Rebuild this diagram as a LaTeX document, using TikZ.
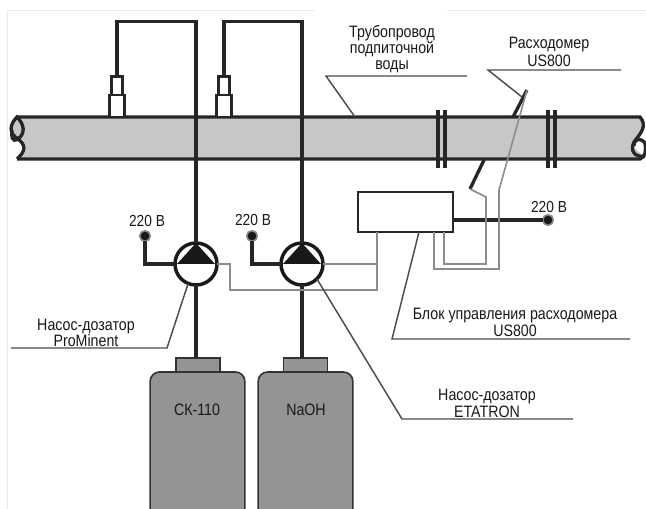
\documentclass[tikz,border=0pt]{standalone}
\usepackage{fontspec}
\setmainfont[FakeStretch=0.86]{Liberation Sans}
\begin{document}
\begin{tikzpicture}[x=0.75pt,y=-0.75pt,
  every node/.style={inner sep=0pt,outer sep=0pt},
  lbl/.style={font=\fontsize{12.4pt}{13pt}\selectfont,text=black!90,align=center},
  vlbl/.style={font=\fontsize{12pt}{13pt}\selectfont,text=black!90,align=center},
  wire/.style={draw=black!85,line width=2.5pt},
  thin wire/.style={draw=black!70,line width=1.1pt},
  gwire/.style={draw=black!45,line width=1.2pt},
  pumpnode/.style={circle,draw=black!90,line width=2.6pt,fill=white,minimum size=31.5pt},
  term/.style={circle,fill=black!90,draw=black!45,line width=1.2pt,minimum size=8pt},
  bottle/.style={draw=black!80,fill=black!42,line width=1.2pt,rounded corners=7pt},
  bottlecap/.style={draw=black!80,fill=black!42,line width=1.2pt},
  sens/.style={draw=black!85,fill=white,line width=1.8pt}]
\useasboundingbox (0,0) rectangle (646,509);
\fill[white] (0,0) rectangle (646,509);
% faint frame
\draw[black!8,line width=0.6pt] (7,509) -- (7,10) -- (315,10);
\draw[black!8,line width=0.6pt] (447,10) -- (646,10);
% pipe
\fill[black!22] (17,117) .. controls (10,124) and (8,133) .. (18,139) .. controls (26,145) and (26,151) .. (17,159)
  -- (640,159) .. controls (646,152) and (630,150) .. (634,142) .. controls (638,135) and (648,126) .. (640,117) -- cycle;
\draw[wire] (17,117) -- (640,117) .. controls (648,126) and (640,134) .. (634,142) .. controls (630,150) and (634,158) .. (645,156);
\draw[wire] (17,159) -- (640,159) .. controls (646,157) and (646,150) .. (645,143) .. controls (640,137) and (634,139) .. (634,146);
\draw[wire] (17,159) .. controls (26,151) and (26,145) .. (18,139) .. controls (8,133) and (10,124) .. (17,117) .. controls (24,124) and (26,133) .. (18,139) .. controls (12,143) and (11,136) .. (12,130);
% flanges
\draw[wire] (438,110) -- (438,168);
\draw[wire] (445,110) -- (445,168);
\draw[wire] (548,110) -- (548,168);
\draw[wire] (555,110) -- (555,168);
% sensors
\node[sens,minimum width=8pt,minimum height=14pt] (s1top) at (117,86) {};
\node[sens,minimum width=11.5pt,minimum height=16.5pt] (s1) at (117,106) {};
\node[sens,minimum width=8pt,minimum height=14pt] (s2top) at (224,86) {};
\node[sens,minimum width=11.5pt,minimum height=16.5pt] (s2) at (224,106) {};
% pumps
\node[pumpnode] (p1) at (196,264) {};
\node[pumpnode] (p2) at (302,264) {};
\fill[black!90] (196,243) -- (215,264) -- (177,264) -- cycle;
\fill[black!90] (302,243) -- (321,264) -- (283,264) -- cycle;
% bottles
\node[bottle,minimum width=71pt,minimum height=112pt,anchor=north] (b1) at (197.5,372) {};
\node[bottle,minimum width=71pt,minimum height=112pt,anchor=north] (b2) at (305.5,372) {};
\node[bottlecap,minimum width=33pt,minimum height=10.5pt,anchor=south] (c1) at (198,372) {};
\node[bottlecap,minimum width=33pt,minimum height=10.5pt,anchor=south] (c2) at (305.5,372) {};
\node[lbl] (tb1) at (197,410) {СК-110};
\node[lbl] (tb2) at (306,410) {NaOH};
% control box
\node[draw=black!85,fill=white,line width=1.4pt,minimum width=71pt,minimum height=30pt] (box) at (405.5,212) {};
% terminals
\node[term] (t1) at (145,236) {};
\node[term] (t2) at (252,236) {};
\node[term] (t3) at (548,220) {};
\node[vlbl] (v1) at (147,221) {220 В};
\node[vlbl] (v2) at (253,220) {220 В};
\node[vlbl] (v3) at (549,207) {220 В};
% black wires
\draw[wire] (s1top.north) -- ++(0,-55) -| (p1.north);
\draw[wire] (s2top.north) -- ++(0,-55) -| (p2.north);
\draw[wire] (p1.south) -- (p1.south |- c1.north);
\draw[wire] (p2.south) -- (p2.south |- c2.north);
\draw[wire] (t1) |- (p1.west);
\draw[wire] (t2) |- (p2.west);
\draw[wire] (box.east |- t3) -- (t3);
% flowmeter transducers
\coordinate (fa) at (527,90);
\coordinate (fa0) at (513,117);
\coordinate (fb) at (470,189);
\coordinate (fb0) at (484,160);
\draw[wire] (fa0) -- (fa);
\draw[wire] (fb0) -- (fb);
% gray signal wires
\coordinate (g1) at (434,232);
\coordinate (g2) at (444,232);
\coordinate (g3) at (377,232);
\draw[gwire] (p1.east) -- (230,264) -- (230,290) -- (377,290) -- (g3);
\draw[gwire] (p2.east) -- (377,264);
\draw[gwire] (g1) -- (434,269) -- (499,269) -- (499,190) -- (fa);
\draw[gwire] (g2) -- (444,264) -- (486,264) -- (486,197) -- (fb);
% leaders
\coordinate (l1a) at (326,76); \coordinate (l1b) at (467,76); \coordinate (l1c) at (355,117);
\draw[thin wire] (l1b) -- (l1a) -- (l1c);
\coordinate (l2a) at (488,70); \coordinate (l2b) at (621,70); \coordinate (l2c) at (522,97);
\draw[thin wire] (l2b) -- (l2a) -- (l2c);
\coordinate (l3a) at (392,339); \coordinate (l3b) at (630,339); \coordinate (l3c) at (419,232);
\draw[thin wire] (l3b) -- (l3a) -- (l3c);
\coordinate (l4a) at (167,348); \coordinate (l4b) at (11,348);
\draw[thin wire] (l4b) -- (l4a) -- (p1.-112);
\coordinate (l5a) at (402,419); \coordinate (l5b) at (573,419);
\draw[thin wire] (l5b) -- (l5a) -- (p2.-45);
% labels
\node[lbl] (n1) at (392,33) {Трубопровод};
\node[lbl] (n2) at (392,49) {подпиточной};
\node[lbl] (n3) at (392,66.5) {воды};
\node[lbl] (n4) at (549,45) {Расходомер};
\node[lbl] (n5) at (549,61) {US800};
\node[lbl] (n6) at (515,316) {Блок управления расходомера};
\node[lbl] (n7) at (515,331) {US800};
\node[lbl] (n8) at (86,327) {Насос-дозатор};
\node[lbl] (n9) at (86,341) {ProMinent};
\node[lbl] (n10) at (487,397) {Насос-дозатор};
\node[lbl] (n11) at (487,412) {ETATRON};
\end{tikzpicture}
\end{document}
